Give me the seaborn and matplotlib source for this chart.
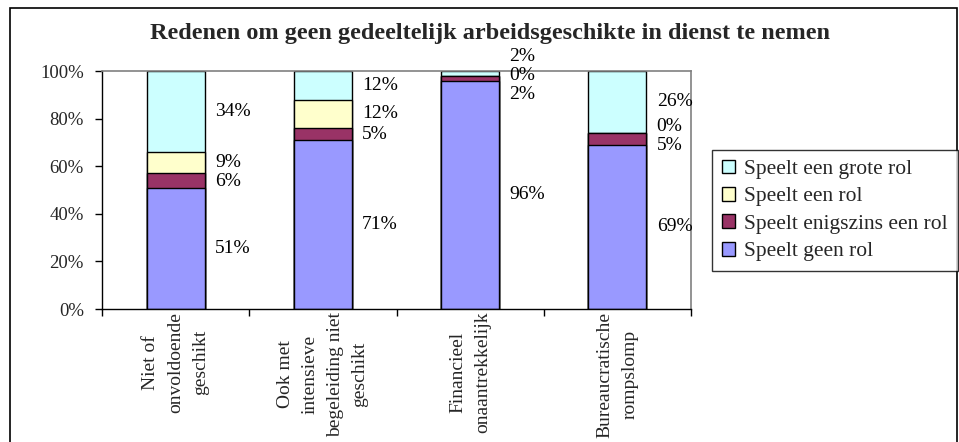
import matplotlib
matplotlib.use("Agg")
import matplotlib.pyplot as plt
import seaborn as sns
import numpy as np
import pandas as pd
from matplotlib.patches import Rectangle, Patch
from matplotlib.ticker import FuncFormatter

# ---- data ----
categories = ["Niet of\nonvoldoende\ngeschikt",
              "Ook met\nintensieve\nbegeleiding niet\ngeschikt",
              "Financieel\nonaantrekkelijk",
              "Bureaucratische\nrompslomp"]
speelt_geen_rol = [51, 71, 96, 69]
speelt_enigszins = [6, 5, 2, 5]
speelt_een_rol = [9, 12, 0, 0]
speelt_grote_rol = [34, 12, 2, 26]
series_names = ["Speelt een grote rol", "Speelt een rol",
                "Speelt enigszins een rol", "Speelt geen rol"]
title = "Redenen om geen gedeeltelijk arbeidsgeschikte in dienst te nemen"

colors = {"Speelt een grote rol": "#CCFFFF",
          "Speelt een rol": "#FFFFCC",
          "Speelt enigszins een rol": "#993366",
          "Speelt geen rol": "#9999FF"}

sns.set_theme(style="white")
plt.rcParams['font.family'] = ['Liberation Serif', 'DejaVu Serif']

W, H = 959, 442
fig = plt.figure(figsize=(W / 100, H / 100), dpi=100)
ax = fig.add_axes([102 / W, 1 - 309 / H, (691 - 102) / W, (309 - 71) / H])

# bottom-up order of stacking
stack = [("Speelt geen rol", speelt_geen_rol),
         ("Speelt enigszins een rol", speelt_enigszins),
         ("Speelt een rol", speelt_een_rol),
         ("Speelt een grote rol", speelt_grote_rol)]
vals = np.array([v for _, v in stack], dtype=float)
cum = np.cumsum(vals, axis=0)

# draw from the tallest cumulative layer down (overlay stacking)
for k in range(len(stack) - 1, -1, -1):
    name = stack[k][0]
    df = pd.DataFrame({"cat": categories, "val": cum[k]})
    sns.barplot(data=df, x="cat", y="val", color=colors[name], ax=ax,
                width=0.394, edgecolor="black", linewidth=1.0,
                saturation=1, errorbar=None, zorder=2)

ax.set_xlim(-0.5, len(categories) - 0.5)
ax.set_ylim(0, 100)
ax.set_xlabel("")
ax.set_ylabel("")
ax.yaxis.set_major_locator(plt.MultipleLocator(20))
ax.yaxis.set_major_formatter(FuncFormatter(lambda v, p: f"{int(round(v))}%"))
ax.set_xticks(np.arange(len(categories)))
ax.set_xticklabels(categories, rotation=90, fontsize=14, linespacing=1.6,
                   ha="center", va="top", multialignment="center")
ax.tick_params(axis="x", length=0, pad=2)
ax.tick_params(axis="y", labelsize=13.5, length=5, width=1, color="black",
               direction="out", left=True, pad=8)
# minor ticks at category boundaries on x axis
ax.set_xticks(np.arange(-0.5, len(categories), 1.0), minor=True)
ax.tick_params(axis="x", which="minor", length=5, width=1, color="black",
               direction="out", bottom=True)

for s in ["left", "bottom"]:
    ax.spines[s].set_color("black")
    ax.spines[s].set_linewidth(1.0)
for s in ["top", "right"]:
    ax.spines[s].set_color("#808080")
    ax.spines[s].set_linewidth(1.2)
ax.grid(False)


def spread(centers, gap):
    groups = [[c] for c in centers]

    def layout(g):
        m = float(np.mean(g))
        n = len(g)
        return [m + gap * (n - 1) / 2 - gap * j for j in range(n)]

    changed = True
    while changed:
        changed = False
        for i in range(len(groups) - 1):
            a = layout(groups[i])
            b = layout(groups[i + 1])
            if a[-1] - b[0] < gap:
                groups[i] = groups[i] + groups[i + 1]
                del groups[i + 1]
                changed = True
                break
    out = []
    for g in groups:
        out += layout(g)
    return out


# data labels to the right of each bar
for i in range(len(categories)):
    centers, texts = [], []
    for k in range(len(stack) - 1, -1, -1):
        top = cum[k][i]
        v = vals[k][i]
        centers.append(top - v / 2)
        texts.append(f"{int(v)}%")
    ys = spread(centers, 8.0)
    for y, t in zip(ys, texts):
        ax.text(i + 0.197 + 0.07, y, t, ha="left", va="center",
                fontsize=14, color="black", clip_on=False)

fig.text(0.511, 1 - 33 / H, title, ha="center", va="center",
         fontsize=17.5, fontweight="bold")

handles = [Patch(facecolor=colors[n], edgecolor="black", linewidth=1.0)
           for n in series_names]
leg = fig.legend(handles, series_names, loc="upper left",
                 bbox_to_anchor=(712 / W, 1 - 150 / H),
                 bbox_transform=fig.transFigure,
                 fontsize=15.5, frameon=True, fancybox=False, shadow=False,
                 handlelength=0.6, handleheight=0.6, handletextpad=0.45,
                 labelspacing=0.37, borderpad=0.45, borderaxespad=0)
leg.get_frame().set_edgecolor("black")
leg.get_frame().set_linewidth(1.0)

fig.patches.append(Rectangle((10 / W, -0.02), (957 - 10) / W, 1.02 - 8 / H + 0.0,
                             transform=fig.transFigure, fill=False,
                             edgecolor="black", linewidth=1.2))

fig.savefig("out.png", dpi=100)
